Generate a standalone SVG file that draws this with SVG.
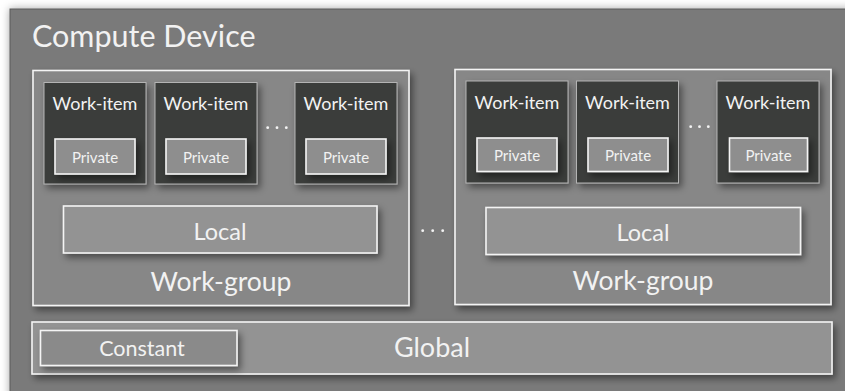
<svg xmlns="http://www.w3.org/2000/svg" width="845" height="391" viewBox="0 0 845 391">
  <defs>
    <filter id="shadow" x="-10%" y="-10%" width="130%" height="140%">
      <feDropShadow dx="3" dy="4" stdDeviation="3.5" flood-color="#000" flood-opacity="0.45"/>
    </filter>
    <filter id="outerShadow" x="-5%" y="-5%" width="110%" height="110%">
      <feDropShadow dx="0" dy="0" stdDeviation="4" flood-color="#000" flood-opacity="0.35"/>
    </filter>
    <style>
      text { font-family: Lato, "Open Sans", "Liberation Sans", sans-serif; fill: #f2f2f2; text-anchor: middle; }
      .group { fill: #878787; stroke: #f4f4f4; stroke-width: 1.6; filter: url(#shadow); }
      .item { fill: #3b3d3b; stroke: #b4b4b4; stroke-width: 1; filter: url(#shadow); }
      .private { fill: #8e8e8e; stroke: #f4f4f4; stroke-width: 1.6; filter: url(#shadow); }
      .mem { fill: #939393; stroke: #f4f4f4; stroke-width: 1.6; filter: url(#shadow); }
      .const { fill: #8a8a8a; stroke: #f4f4f4; stroke-width: 1.6; filter: url(#shadow); }
      .dot { fill: #f4f4f4; }
      .t-item { font-size: 18px; }
      .t-priv { font-size: 15px; }
      .t-local { font-size: 23.5px; }
      .t-group { font-size: 26.5px; }
      .t-const { font-size: 21.5px; }
      .t-global { font-size: 27px; }
    </style>
  </defs>

  <rect width="845" height="391" fill="#ffffff"/>

  <!-- Compute device frame -->
  <g id="compute-device">
    <rect x="10" y="9" width="845" height="392" fill="#7a7a7a" stroke="#5a5a5a" stroke-width="1" filter="url(#outerShadow)"/>
    <text x="32" y="47" style="text-anchor:start;font-size:30.5px">Compute Device</text>
  </g>

  <!-- Left work-group -->
  <g id="workgroup-1">
    <rect class="group" x="33" y="70.5" width="376" height="235"/>
    <text class="t-group" x="221" y="290.5">Work-group</text>
  </g>
  <g id="wg1-item-1">
    <rect class="item" x="44" y="82.5" width="102" height="101.5"/>
    <text class="t-item" x="95" y="110">Work-item</text>
    <rect class="private" x="55" y="139" width="80" height="35"/>
    <text class="t-priv" x="95" y="162.5">Private</text>
  </g>
  <g id="wg1-item-2">
    <rect class="item" x="155" y="82.5" width="102" height="101.5"/>
    <text class="t-item" x="206" y="110">Work-item</text>
    <rect class="private" x="166" y="139" width="80" height="35"/>
    <text class="t-priv" x="206" y="162.5">Private</text>
  </g>
  <g id="wg1-item-n">
    <rect class="item" x="295" y="82.5" width="102" height="101.5"/>
    <text class="t-item" x="346" y="110">Work-item</text>
    <rect class="private" x="306" y="139" width="80" height="35"/>
    <text class="t-priv" x="346" y="162.5">Private</text>
  </g>
  <g id="wg1-local">
    <rect class="mem" x="63.5" y="206" width="313.5" height="47"/>
    <text class="t-local" x="220" y="239.5">Local</text>
  </g>

  <!-- Right work-group -->
  <g id="workgroup-2">
    <rect class="group" x="455" y="69.5" width="376" height="235"/>
    <text class="t-group" x="643" y="289.5">Work-group</text>
  </g>
  <g id="wg2-item-1">
    <rect class="item" x="466" y="81" width="102" height="102"/>
    <text class="t-item" x="517" y="108.5">Work-item</text>
    <rect class="private" x="477" y="138" width="80" height="33.5"/>
    <text class="t-priv" x="517" y="161">Private</text>
  </g>
  <g id="wg2-item-2">
    <rect class="item" x="576.5" y="81" width="102" height="102"/>
    <text class="t-item" x="627.5" y="108.5">Work-item</text>
    <rect class="private" x="588" y="138" width="80" height="33.5"/>
    <text class="t-priv" x="628" y="161">Private</text>
  </g>
  <g id="wg2-item-n">
    <rect class="item" x="717" y="81" width="102" height="102"/>
    <text class="t-item" x="768" y="108.5">Work-item</text>
    <rect class="private" x="729.5" y="138" width="78" height="33.5"/>
    <text class="t-priv" x="768.5" y="161">Private</text>
  </g>
  <g id="wg2-local">
    <rect class="mem" x="486" y="207.5" width="314.5" height="47"/>
    <text class="t-local" x="643" y="241">Local</text>
  </g>

  <!-- Global memory with constant region -->
  <g id="global">
    <rect class="mem" x="32" y="322" width="800" height="52"/>
    <text class="t-global" x="432" y="356.5">Global</text>
  </g>
  <g id="constant">
    <rect class="const" x="40.5" y="330.5" width="196.5" height="35"/>
    <text class="t-const" x="142" y="355.5">Constant</text>
  </g>

  <!-- Ellipses marking omitted items and groups -->
  <g id="ellipses">
    <circle class="dot" cx="267.7" cy="127.7" r="1.4"/>
    <circle class="dot" cx="277" cy="127.7" r="1.4"/>
    <circle class="dot" cx="286.3" cy="127.7" r="1.4"/>
    <circle class="dot" cx="690.7" cy="126.7" r="1.4"/>
    <circle class="dot" cx="699.5" cy="126.7" r="1.4"/>
    <circle class="dot" cx="708.3" cy="126.7" r="1.4"/>
    <circle class="dot" cx="422.7" cy="230.7" r="1.4"/>
    <circle class="dot" cx="432.7" cy="230.7" r="1.4"/>
    <circle class="dot" cx="442.7" cy="230.7" r="1.4"/>
  </g>
</svg>
